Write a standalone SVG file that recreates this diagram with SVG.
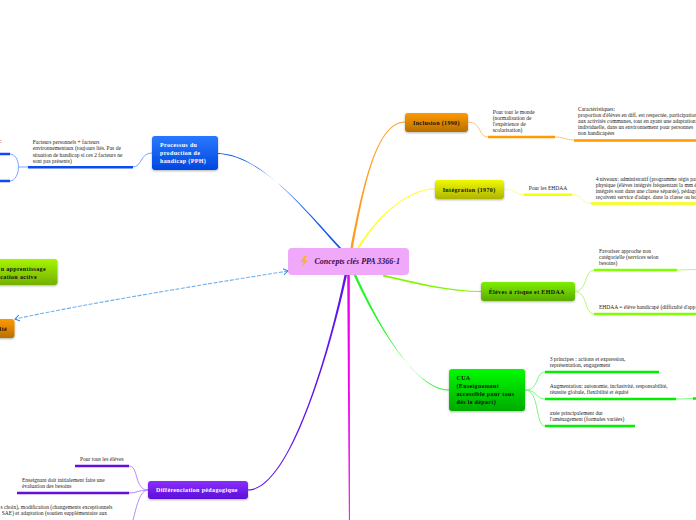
<svg xmlns="http://www.w3.org/2000/svg" width="696" height="520" viewBox="0 0 696 520">
<style>
text{font-family:"Liberation Serif","Times New Roman",serif}
.l{font-size:5.500px;fill:#222}
.n{font-size:6px;font-weight:bold;letter-spacing:.35px;fill:#111}
.w{fill:#fff}
.c{fill:none;stroke-width:1}
.b{filter:url(#s)}
</style>
<defs>
<filter id="s" x="-10%" y="-10%" width="120%" height="130%"><feDropShadow dx="0" dy="1" stdDeviation="1" flood-color="#000" flood-opacity=".3"/></filter>
<linearGradient id="go" x1="0" y1="0" x2="0" y2="1"><stop offset="0" stop-color="#ff9a00"/><stop offset="1" stop-color="#b96f00"/></linearGradient>
<linearGradient id="gy" x1="0" y1="0" x2="0" y2="1"><stop offset="0" stop-color="#f0fa00"/><stop offset="1" stop-color="#adb500"/></linearGradient>
<linearGradient id="gg" x1="0" y1="0" x2="0" y2="1"><stop offset="0" stop-color="#7fee00"/><stop offset="1" stop-color="#5bab00"/></linearGradient>
<linearGradient id="gc" x1="0" y1="0" x2="0" y2="1"><stop offset="0" stop-color="#00fb00"/><stop offset="1" stop-color="#00aa00"/></linearGradient>
<linearGradient id="gb" x1="0" y1="0" x2="0" y2="1"><stop offset="0" stop-color="#2a78ff"/><stop offset="1" stop-color="#0048e0"/></linearGradient>
<linearGradient id="gp" x1="0" y1="0" x2="0" y2="1"><stop offset="0" stop-color="#8a2eff"/><stop offset="1" stop-color="#5a10d8"/></linearGradient>
<linearGradient id="gl" x1="0" y1="0" x2="0" y2="1"><stop offset="0" stop-color="#a6f500"/><stop offset="1" stop-color="#74b000"/></linearGradient>
<marker id="a" markerWidth="7" markerHeight="7" refX="6" refY="3.500" orient="auto-start-reverse" markerUnits="userSpaceOnUse"><path d="M1.500 .5L6 3.500L1.500 6.500" fill="none" stroke="#2f86e8" stroke-width="1"/></marker>
</defs>
<g id="connectors">
<path fill="#ff9d1f" d="M350.500 248C362 190 375.500 121.500 405 121.500V122.500C376 122.500 363.500 190 353 248Z"/>
<path fill="#ffff22" d="M357 248C374.500 220 405 188.500 435 188.500V189.500C405.500 189.500 375.800 220 359.500 248Z"/>
<path fill="#85f500" d="M383 274.500C420 283 450 291 481 291V292C450 292 420 285 383 276.500Z"/>
<path fill="#22f522" d="M353.700 275C363.700 297 408.800 389.500 449 389.500V390.500C408.800 390.500 366.300 297 356.300 275Z"/>
<path fill="#0b55f0" d="M218 153C262 154.500 306 212 338.800 248H341.200C308 212 262 155.500 218 154Z"/>
<path fill="#5f14f0" d="M248 489.500C289.500 489.500 329 350 344.500 275H347C330.500 350 290.500 490.500 248 490.500Z"/>
<path fill="#f000f0" d="M347.200 275H349.800L349.900 520H348.900Z"/>
<path stroke="#6cb2f2" fill="none" stroke-dasharray="4 1.500" stroke-width="1.100" d="M288 271C200 285 90 303 15 319" marker-start="url(#a)" marker-end="url(#a)"/>
<path class="c" stroke="#ffc47a" d="M468 122C482 122 478 137 488 137M555 137C565 137 565 140 574 140"/>
<path class="c" stroke="#ffff7a" d="M504 189C516 189 514 194.500 524 194.500M572 194.500C584 194.500 580 203.500 591 203.500"/>
<path class="c" stroke="#b8f87a" d="M575 291.500C588 291 584 270 594 270M575 291.500C588 292 584 314 594 314M677 270C684 270 690 269.500 696 269.500"/>
<path class="c" stroke="#7af87a" d="M525 390C540 390 535 372 545 372M525 390C538 390 535 399 545 399M525 390C540 390 535 426 545 426M676 399C684 399 688 398.500 693 398.500"/>
<path class="c" stroke="#7aa5ff" d="M152 153C140 153 142 167 133 167M28 167H18.500M10 154C15 154 18.500 160 18.500 167C18.500 174 15 181 10 181"/>
<path class="c" stroke="#b18aff" d="M148 490C134 490 139 466 129 466M148 490C140 490 136 493 129 493M148 490C140 490 137 505 133 520"/>
</g>
<g id="underlines" fill="none" stroke-width="2.500">
<path d="M488 137H555M574 140.500H696" stroke="#ff9a00"/>
<path d="M524 194.700H572M591 203.500H696" stroke="#f5ff00"/>
<path d="M594 270H677M594 314H696" stroke="#80ff00"/>
<path d="M545 372H659M545 399H676M693 398.500H696M545 426H635" stroke="#00f000"/>
<path d="M0 154H10M0 181H10M28 167.300H133" stroke="#0b4cf0"/>
<path d="M75 466H129M17 493H129" stroke="#6010e0"/>
</g>
<g id="central"><rect x="288" y="248" width="121" height="27" rx="4" fill="#f0a8fb"/>
<path d="M304 256L300.500 262H303.500L302 267L308 260H305L307 256Z" fill="#f5b04a"/>
<text x="314.500" y="264" font-size="8" font-weight="bold" font-style="italic" fill="#3c0a4a">Concepts clés PPA 3366-1</text></g>
<g id="inclusion"><rect class="b" x="405" y="113" width="63" height="19" rx="3" fill="url(#go)"/><text class="n" x="413" y="125">Inclusion (1990)</text></g>
<g id="integration"><rect class="b" x="435" y="180" width="69" height="19" rx="3" fill="url(#gy)"/><text class="n" x="442.700" y="191.500">Intégration (1970)</text></g>
<g id="eleves"><rect class="b" x="481" y="282" width="94" height="19" rx="3" fill="url(#gg)"/><text class="n" x="488.700" y="294">Élèves à risque et EHDAA</text></g>
<g id="cua"><rect class="b" x="449" y="369" width="76" height="42" rx="3" fill="url(#gc)"/><text class="n"><tspan x="456.500" y="380">CUA</tspan><tspan x="456.500" y="388">(Enseignement</tspan><tspan x="456.500" y="396">accessible pour tous</tspan><tspan x="456.500" y="404">dès le départ)</tspan></text></g>
<g id="pph"><rect class="b" x="152" y="136" width="66" height="34" rx="3" fill="url(#gb)"/><text class="n w"><tspan x="160" y="147">Processus du</tspan><tspan x="160" y="155">production de</tspan><tspan x="160" y="163">handicap (PPH)</tspan></text></g>
<g id="diff"><rect class="b" x="148" y="481" width="100" height="18" rx="3" fill="url(#gp)"/><text class="n w" x="156" y="492">Différenciation pédagogique</text></g>
<g id="apprentissage"><rect class="b" x="-20" y="259" width="77.500" height="26" rx="3" fill="url(#gl)"/><text class="n" text-anchor="end"><tspan x="46" y="270.500">n apprentissage</tspan><tspan x="37" y="278.500">cation active</tspan></text></g>
<g id="ulte"><rect class="b" x="-20" y="319" width="34.500" height="19" rx="3" fill="url(#go)"/><text class="n" x="7" y="331" text-anchor="end">ulté</text></g>
<g id="leaves">
<text class="l"><tspan x="492.700" y="113.500">Pour tout le monde</tspan><tspan x="492.700" y="119.500">(normalisation de</tspan><tspan x="492.700" y="125.500">l'expérience de</tspan><tspan x="492.700" y="131.600">scolarisation)</tspan></text>
<text class="l"><tspan x="578" y="110.500">Caractéristiques:</tspan><tspan x="578" y="116.500">proportion d'élèves en diff. est respectée, participation</tspan><tspan x="578" y="122.500">aux activités communes, tout en ayant une adaptation</tspan><tspan x="578" y="128.500">individuelle, dans un environnement pour personnes</tspan><tspan x="578" y="134.500">non handicapées</tspan></text>
<text class="l" x="528.700" y="189.500">Pour les EHDAA</text>
<text class="l"><tspan x="595.700" y="180.700">4 niveaux: administratif (programme régis par</tspan><tspan x="595.700" y="186.700">physique (élèves intégrés fréquentant la mm é</tspan><tspan x="595.700" y="192.500">intégrés sont dans une classe séparée), pédago</tspan><tspan x="595.700" y="198.500">reçoivent service d'adapt. dans la classe ou ho</tspan></text>
<text class="l"><tspan x="599" y="252.700">Favoriser approche non</tspan><tspan x="599" y="258.700">catégorielle (services selon</tspan><tspan x="599" y="264.700">besoins)</tspan></text>
<text class="l" x="599" y="309">EHDAA = élève handicapé (difficulté d'app</text>
<text class="l"><tspan x="549.700" y="360.700">3 principes : actions et expression,</tspan><tspan x="549.700" y="366.700">représentation, engagement</tspan></text>
<text class="l"><tspan x="549.700" y="387.500">Augmentation: autonomie, inclusivité, responsabilité,</tspan><tspan x="549.700" y="393.500">réussite globale, flexibilité et équité</tspan></text>
<text class="l"><tspan x="549.700" y="414.500">axée principalement dur</tspan><tspan x="549.700" y="420.500">l'aménagement (formules variées)</tspan></text>
<text class="l"><tspan x="32.700" y="144">Facteurs personnels + facteurs</tspan><tspan x="32.700" y="150">environnementaux  (toujours liés. Pas de</tspan><tspan x="32.700" y="156.500">situation de handicap si ces 2 facteurs ne</tspan><tspan x="32.700" y="162.500">sont pas présents)</tspan></text>
<text class="l" x="0" y="143">:</text>
<text class="l" x="80" y="460.500">Pour tous les élèves</text>
<text class="l"><tspan x="22" y="481.700">Enseignant doit initialement faire une</tspan><tspan x="22" y="487.700">évaluation des besoins</tspan></text>
<text class="l" text-anchor="end"><tspan x="112.500" y="508.700">s choix), modification (changements exceptionnels</tspan><tspan x="107" y="514.700">SAE) et adaptation (soutien supplémentaire aux</tspan></text>
</g>
</svg>
